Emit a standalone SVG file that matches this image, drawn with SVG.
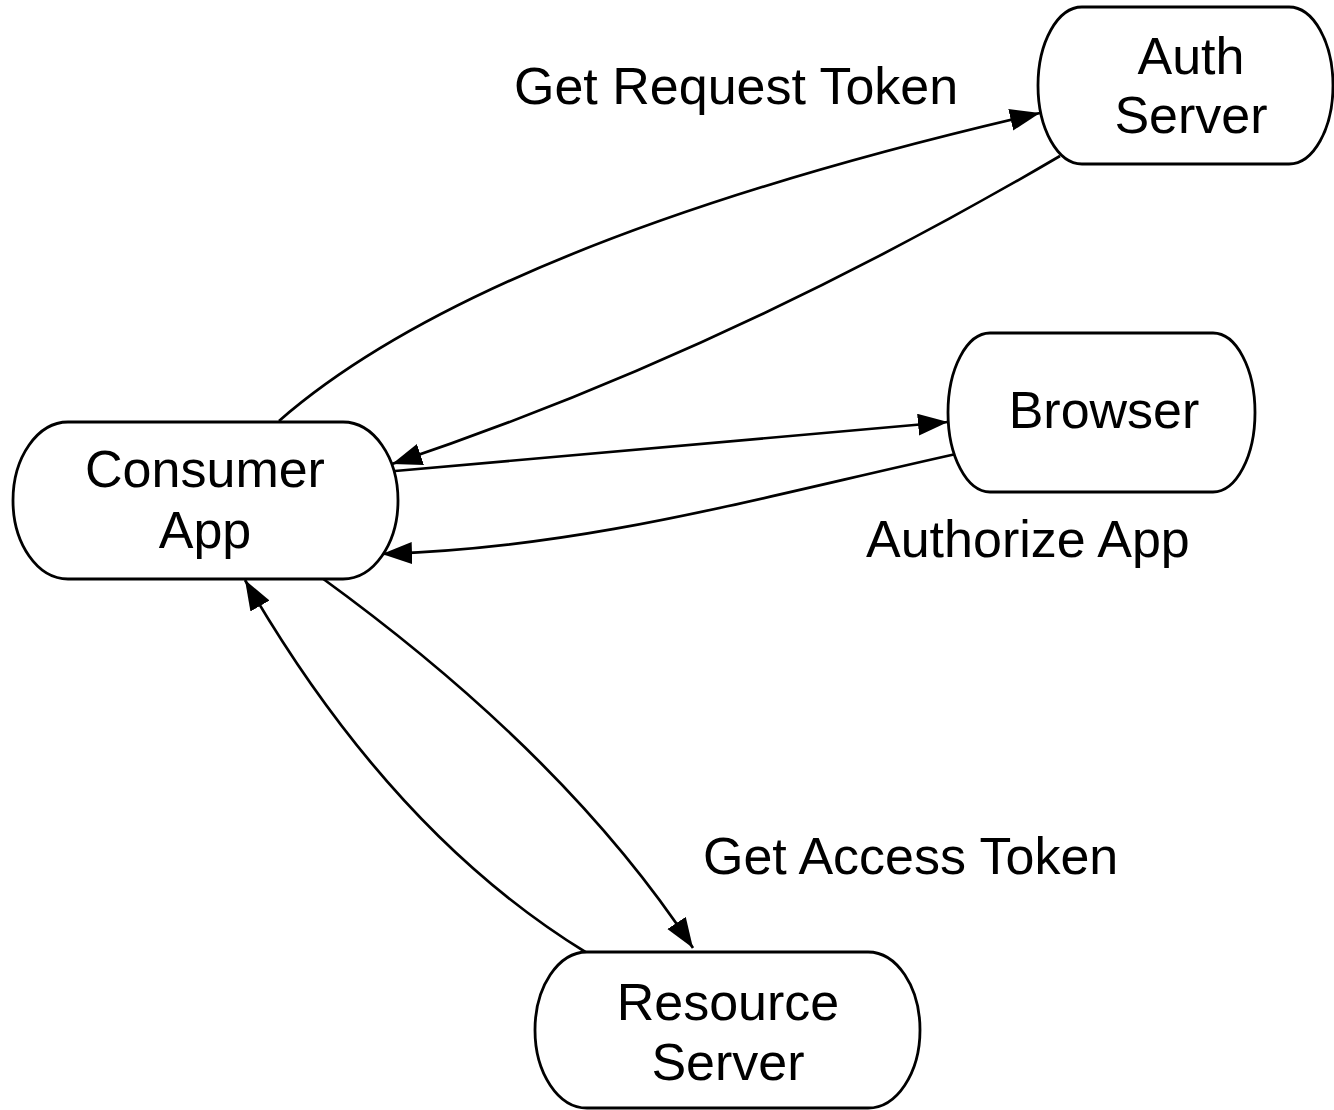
<svg xmlns="http://www.w3.org/2000/svg" width="1334" height="1110" viewBox="0 0 1334 1110">
<style>
.node{fill:#fff;stroke:#000;stroke-width:2.8}
.t{font-family:"Liberation Sans",Arial,Helvetica,sans-serif;font-size:52px;fill:#000}
.c{text-anchor:middle}
.edge{fill:none;stroke:#000;stroke-width:2.7;marker-end:url(#arr)}
</style>
<defs>
<marker id="arr" markerUnits="userSpaceOnUse" markerWidth="32" markerHeight="24" refX="30" refY="11" orient="auto">
<path d="M0,0 L30,11 L0,22 z" fill="#000"/>
</marker>
</defs>
<rect width="1334" height="1110" fill="#fff"/>
<g id="connectors">
<path class="edge" d="M279,421 Q485,241 1040,113"/>
<path class="edge" d="M1060,156 Q726,352 392,464"/>
<path class="edge" d="M395,471 L948,422"/>
<path class="edge" d="M956,454 C745,501 582,548 382,554"/>
<path class="edge" d="M322,578 Q567,756 693,948"/>
<path class="edge" d="M587,953 Q391,833 245,580"/>
</g>
<g id="labels">
<text class="t" x="514" y="104">Get Request Token</text>
<text class="t" x="866" y="557">Authorize App</text>
<text class="t" x="703" y="874">Get Access Token</text>
</g>
<g id="auth-server">
<rect class="node" x="1038" y="7" width="295" height="157" rx="44" ry="78.5"/>
<text class="t c" x="1191" y="74">Auth</text>
<text class="t c" x="1191" y="133">Server</text>
</g>
<g id="browser">
<rect class="node" x="948" y="333" width="307" height="159" rx="42" ry="79.5"/>
<text class="t c" x="1104" y="428">Browser</text>
</g>
<g id="consumer-app">
<rect class="node" x="13" y="422" width="385" height="157" rx="55" ry="78.5"/>
<text class="t c" x="205" y="487">Consumer</text>
<text class="t c" x="205" y="548">App</text>
</g>
<g id="resource-server">
<rect class="node" x="535" y="952" width="385" height="156" rx="52" ry="78"/>
<text class="t c" x="728" y="1020">Resource</text>
<text class="t c" x="728" y="1080">Server</text>
</g>
</svg>
